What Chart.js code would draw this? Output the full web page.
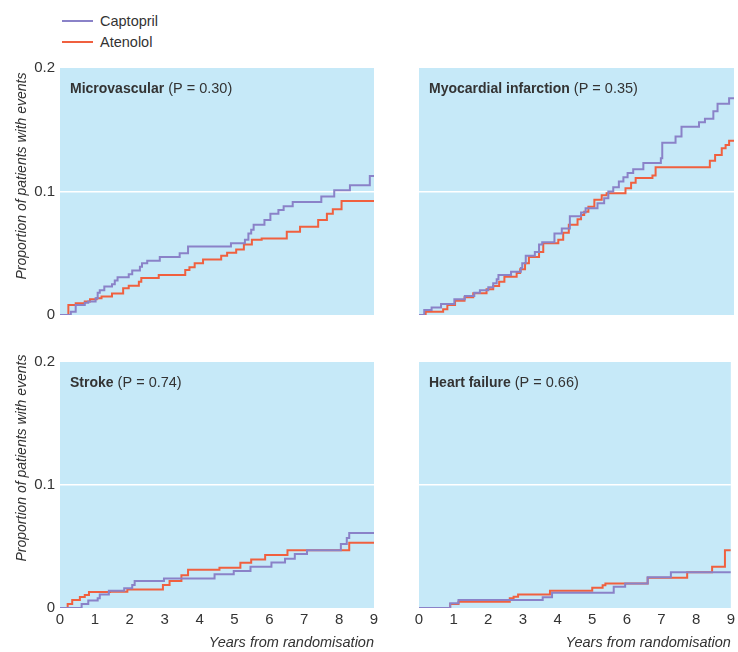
<!DOCTYPE html>
<html>
<head>
<meta charset="utf-8">
<script src="https://cdn.jsdelivr.net/npm/chart.js@4.4.0/dist/chart.umd.min.js"></script>
<style>
  body { margin: 0; background: #fff; width: 738px; height: 652px; position: relative; overflow: hidden;
         font-family: "Liberation Sans", Arial, sans-serif; color: #333; }
  canvas { position: absolute; }
  #legend { position: absolute; left: 62px; top: 10px; font-size: 14.5px; }
  .item { height: 21px; display: flex; align-items: center; }
  .swatch { width: 31px; height: 2px; margin-right: 7px; }
</style>
</head>
<body>
<div id="legend">
  <div class="item"><span class="swatch" style="background:#8a82c8"></span>Captopril</div>
  <div class="item"><span class="swatch" style="background:#f0603f"></span>Atenolol</div>
</div>
<canvas id="c1" width="383" height="276" style="left:0;top:54px"></canvas>
<canvas id="c2" width="327" height="266" style="left:411px;top:54px"></canvas>
<canvas id="c3" width="383" height="304" style="left:0;top:348px"></canvas>
<canvas id="c4" width="327" height="304" style="left:411px;top:348px"></canvas>
<script>
// ticks
const xTicks = [0, 1, 2, 3, 4, 5, 6, 7, 8, 9];
const yTicks = [0, 0.1, 0.2];

// [years, proportion] — value after each step
const microCaptopril = [[0,0],[0.31,0.0027],[0.45,0.008],[0.71,0.010],[0.81,0.011],[1.02,0.0135],[1.08,0.018],[1.14,0.020],[1.27,0.023],[1.49,0.025],[1.57,0.028],[1.65,0.0305],[1.97,0.033],[2.07,0.036],[2.29,0.039],[2.35,0.042],[2.50,0.044],[2.86,0.047],[3.43,0.050],[3.67,0.0555],[4.90,0.058],[5.30,0.061],[5.40,0.066],[5.48,0.069],[5.55,0.073],[5.86,0.077],[6.03,0.082],[6.26,0.085],[6.41,0.088],[6.67,0.0915],[7.49,0.096],[7.86,0.101],[8.31,0.105],[8.88,0.1125],[9,0.1125]];
const microAtenolol = [[0,0],[0.24,0.008],[0.45,0.0095],[0.71,0.011],[0.86,0.0127],[1.05,0.0135],[1.19,0.015],[1.49,0.0175],[1.81,0.0216],[1.97,0.0237],[2.26,0.027],[2.33,0.030],[2.83,0.0324],[3.59,0.0365],[3.71,0.0386],[3.86,0.042],[4.10,0.045],[4.62,0.048],[4.79,0.0505],[5.05,0.053],[5.27,0.057],[5.50,0.061],[5.78,0.062],[6.50,0.0675],[6.88,0.0715],[7.40,0.077],[7.65,0.082],[7.82,0.0856],[8.07,0.0923],[9,0.0923]];

const miCaptopril = [[0,0],[0.15,0.004],[0.36,0.006],[0.63,0.009],[1.01,0.0127],[1.31,0.0154],[1.58,0.018],[1.74,0.020],[1.98,0.0224],[2.12,0.0257],[2.22,0.029],[2.27,0.0324],[2.63,0.035],[2.91,0.038],[2.95,0.042],[3.05,0.048],[3.31,0.051],[3.43,0.057],[3.52,0.059],[3.87,0.066],[4.08,0.070],[4.31,0.080],[4.63,0.083],[4.76,0.0865],[5.10,0.0905],[5.29,0.0945],[5.41,0.100],[5.55,0.1035],[5.71,0.108],[5.84,0.1115],[5.96,0.115],[6.12,0.118],[6.41,0.123],[6.91,0.127],[6.95,0.1395],[7.33,0.1445],[7.50,0.1525],[8.00,0.156],[8.17,0.159],[8.41,0.165],[8.53,0.171],[8.86,0.1755],[9,0.1755]];
const miAtenolol = [[0,0],[0.19,0.0027],[0.69,0.0046],[0.81,0.008],[1.03,0.0116],[1.30,0.0143],[1.55,0.0176],[1.93,0.0208],[2.12,0.0235],[2.29,0.027],[2.44,0.031],[2.79,0.034],[2.89,0.037],[3.03,0.042],[3.14,0.047],[3.43,0.051],[3.55,0.058],[3.98,0.061],[4.12,0.0667],[4.28,0.073],[4.53,0.0775],[4.63,0.081],[4.72,0.0837],[4.84,0.0877],[5.01,0.0934],[5.22,0.097],[5.36,0.0986],[5.90,0.1026],[6.06,0.107],[6.19,0.111],[6.67,0.113],[6.76,0.1196],[8.31,0.125],[8.46,0.1296],[8.65,0.135],[8.76,0.1377],[8.86,0.141],[9,0.141]];

const strokeCaptopril = [[0,0],[0.62,0.0032],[0.81,0.006],[1.08,0.008],[1.14,0.011],[1.40,0.014],[1.84,0.016],[2.07,0.0186],[2.14,0.022],[2.98,0.024],[4.43,0.0275],[4.98,0.030],[5.46,0.0335],[6.06,0.037],[6.45,0.040],[6.73,0.044],[7.08,0.047],[8.05,0.052],[8.22,0.057],[8.29,0.061],[9,0.061]];
const strokeAtenolol = [[0,0],[0.22,0.0032],[0.35,0.0065],[0.57,0.009],[0.71,0.0105],[0.83,0.013],[1.43,0.0133],[1.93,0.0151],[2.95,0.0186],[3.14,0.022],[3.48,0.0267],[3.67,0.031],[4.57,0.0327],[5.17,0.0367],[5.48,0.0395],[5.88,0.043],[6.52,0.047],[8.29,0.053],[9,0.053]];

const hfCaptopril = [[0,0],[0.90,0.0038],[1.14,0.0065],[3.57,0.0087],[3.84,0.0124],[5.62,0.0173],[5.95,0.020],[6.60,0.025],[7.27,0.029],[9,0.029]];
const hfAtenolol = [[0,0],[0.90,0.0033],[1.14,0.0051],[2.62,0.0079],[2.73,0.0092],[2.86,0.011],[3.78,0.014],[5.00,0.0165],[5.30,0.0184],[5.38,0.020],[6.60,0.0245],[7.74,0.029],[8.46,0.0335],[8.83,0.047],[9,0.047]];

const FONT = '"Liberation Sans", Arial, sans-serif';
const TEXT = '#333';

const panelBg = {
  id: 'panelBg',
  beforeDraw(chart) {
    const { ctx, chartArea: a } = chart;
    ctx.save();
    ctx.fillStyle = '#c6e9f8';
    ctx.fillRect(a.left, a.top, a.right - a.left, a.bottom - a.top);
    ctx.restore();
  }
};

// bold name + plain p value, and the rotated side title
const panelText = {
  id: 'panelText',
  beforeDatasetsDraw(chart, args, opts) {
    const { ctx, chartArea: a } = chart;
    ctx.save();
    ctx.fillStyle = TEXT;
    ctx.textBaseline = 'middle';
    ctx.font = 'bold 14px ' + FONT;
    ctx.fillText(opts.name, a.left + 10, a.top + 21);
    const w = ctx.measureText(opts.name).width;
    ctx.font = '14.5px ' + FONT;
    ctx.fillText(' ' + opts.p, a.left + 10 + w, a.top + 21);
    if (opts.side) {
      ctx.translate(22, opts.sideY);
      ctx.rotate(-Math.PI / 2);
      ctx.textAlign = 'center';
      ctx.font = 'italic 14px ' + FONT;
      ctx.fillText(opts.side, 0, 0);
    }
    ctx.restore();
  }
};

function makePanel(id, name, p, cap, ate, left, bottom, sideY) {
  new Chart(document.getElementById(id), {
    type: 'scatter',
    data: {
      datasets: [
        { label: 'Captopril', data: cap, borderColor: '#8a82c8' },
        { label: 'Atenolol', data: ate, borderColor: '#f0603f' }
      ]
    },
    options: {
      responsive: false,
      animation: false,
      showLine: true,
      elements: {
        line: { stepped: true, borderWidth: 2, tension: 0 },
        point: { radius: 0 }
      },
      layout: { padding: { top: 14, right: left ? 9 : 4, bottom: bottom ? 0 : (left ? 15 : 5), left: left ? 0 : 8 } },
      plugins: {
        legend: { display: false },
        tooltip: { enabled: false },
        panelText: { name, p, side: left ? 'Proportion of patients with events' : null, sideY }
      },
      scales: {
        x: {
          type: 'linear', min: 0, max: 9,
          display: bottom,
          afterBuildTicks: s => { s.ticks = xTicks.map(v => ({ value: v })); },
          afterFit: s => { if (bottom) s.height = 44; },
          grid: { display: false, drawTicks: false },
          border: { display: false },
          ticks: { color: TEXT, padding: 3, font: { family: FONT, size: 15 } },
          title: {
            display: true, text: 'Years from randomisation', align: 'end',
            color: TEXT, padding: { top: 0, bottom: 0 },
            font: { family: FONT, size: 14.5, style: 'italic' }
          }
        },
        y: {
          type: 'linear', min: 0, max: 0.2,
          afterBuildTicks: s => { s.ticks = yTicks.map(v => ({ value: v })); },
          afterFit: s => { s.width = left ? 60 : 0; },
          grid: {
            drawTicks: false, lineWidth: 1.5,
            color: c => (c.tick && Math.abs(c.tick.value - 0.1) < 1e-9) ? '#ffffff' : 'rgba(0,0,0,0)'
          },
          border: { display: false },
          ticks: { display: left, color: TEXT, padding: 5, font: { family: FONT, size: 15 } }
        }
      }
    },
    plugins: [panelBg, panelText]
  });
}

makePanel('c1', 'Microvascular', '(P = 0.30)', microCaptopril, microAtenolol, true, false, 122);
makePanel('c2', 'Myocardial infarction', '(P = 0.35)', miCaptopril, miAtenolol, false, false, 0);
makePanel('c3', 'Stroke', '(P = 0.74)', strokeCaptopril, strokeAtenolol, true, true, 110);
makePanel('c4', 'Heart failure', '(P = 0.66)', hfCaptopril, hfAtenolol, false, true, 0);
</script>
</body>
</html>
